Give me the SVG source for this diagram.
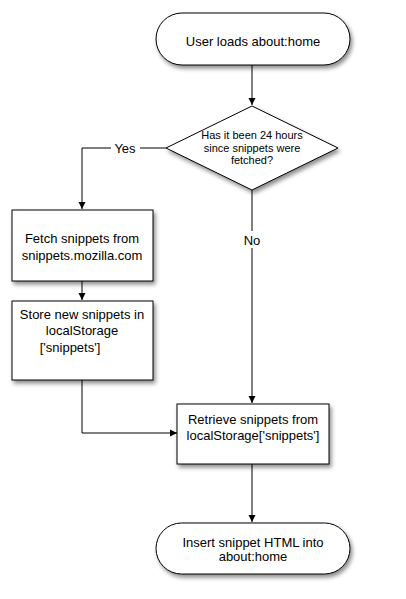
<svg xmlns="http://www.w3.org/2000/svg" width="406" height="599" viewBox="0 0 406 599">
<style>
.s{fill:#fff;stroke:#000;stroke-width:1;filter:url(#sh)}
.t{font-family:"Liberation Sans",Arial,sans-serif;font-size:13px;fill:#000;text-anchor:middle}
.d{font-size:11px}
.c{fill:none;stroke:#000;stroke-width:1}
</style>
<defs>
<filter id="sh" x="-20%" y="-20%" width="150%" height="160%">
<feDropShadow dx="2" dy="3" stdDeviation="2" flood-color="#000" flood-opacity="0.45"/>
</filter>
<marker id="a" markerWidth="8" markerHeight="8" refX="7" refY="4" orient="auto" markerUnits="userSpaceOnUse">
<path d="M0,0.5 L7,4 L0,7.5 Z" fill="#000"/>
</marker>
</defs>
<rect width="406" height="599" fill="#fff"/>
<g id="connectors">
<path class="c" d="M252,65 V105" marker-end="url(#a)"/>
<path class="c" d="M166,148 H82 V209" marker-end="url(#a)"/>
<path class="c" d="M82,281 V300" marker-end="url(#a)"/>
<path class="c" d="M82,380 V433 H177" marker-end="url(#a)"/>
<path class="c" d="M252,190 V403" marker-end="url(#a)"/>
<path class="c" d="M252,464 V522" marker-end="url(#a)"/>
<rect x="111" y="140" width="29" height="16" fill="#fff"/>
<text class="t" x="125" y="153">Yes</text>
<rect x="242" y="231" width="20" height="17" fill="#fff"/>
<text class="t" x="252" y="244.5">No</text>
</g>
<g id="start">
<rect class="s" x="156" y="13" width="194" height="52" rx="26"/>
<text class="t" x="253" y="45.5">User loads about:home</text>
</g>
<g id="decision">
<path class="s" d="M252,106 L338,148 L252,190 L166,148 Z"/>
<text class="t d" x="252" y="139">Has it been 24 hours</text>
<text class="t d" x="252" y="151.5">since snippets were</text>
<text class="t d" x="252" y="164">fetched?</text>
</g>
<g id="fetch">
<rect class="s" x="12" y="210" width="141" height="71"/>
<text class="t" x="82" y="242.5">Fetch snippets from</text>
<text class="t" x="82" y="259.5">snippets.mozilla.com</text>
</g>
<g id="store">
<rect class="s" x="12" y="301" width="141" height="79"/>
<text class="t" x="82" y="318.5">Store new snippets in</text>
<text class="t" x="82" y="335">localStorage</text>
<text class="t" x="70" y="351.5">['snippets']</text>
</g>
<g id="retrieve">
<rect class="s" x="177" y="404" width="152" height="60"/>
<text class="t" x="253" y="423.5">Retrieve snippets from</text>
<text class="t" x="253" y="439.5">localStorage['snippets']</text>
</g>
<g id="end">
<rect class="s" x="156" y="523" width="194" height="51" rx="25.5"/>
<text class="t" x="253" y="546.5">Insert snippet HTML into</text>
<text class="t" x="253" y="561">about:home</text>
</g>
</svg>
